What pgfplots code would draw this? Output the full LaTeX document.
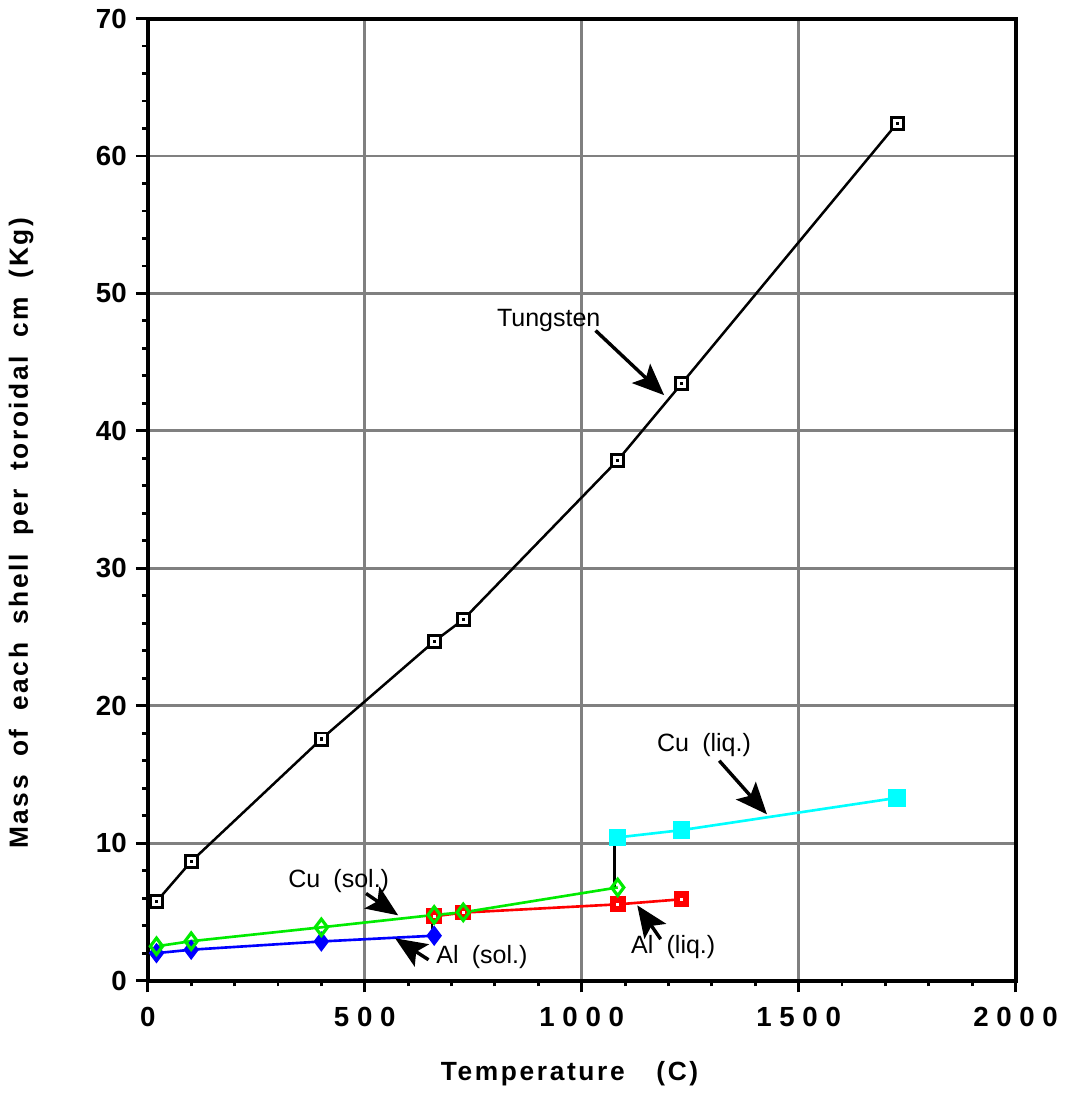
\documentclass[border=0pt]{standalone}
\usepackage{fontspec}
\setmainfont{Liberation Sans}
\newfontfamily\spaced[LetterSpace=10]{Liberation Sans}
\usepackage{pgfplots}
\pgfplotsset{compat=1.18}
\usetikzlibrary{arrows.meta}

\definecolor{gridgray}{RGB}{128,128,128}
\definecolor{culiq}{RGB}{0,255,255}
\definecolor{cusol}{RGB}{0,235,0}

\pgfdeclareplotmark{sqdotb}{%
  \pgfpathrectangle{\pgfpoint{-\pgfplotmarksize}{-\pgfplotmarksize}}{\pgfpoint{2\pgfplotmarksize}{2\pgfplotmarksize}}%
  \pgfusepathqfillstroke
  \begin{pgfscope}%
  \pgfpathrectangle{\pgfpoint{-0.6pt}{-0.6pt}}{\pgfpoint{1.2pt}{1.2pt}}%
  \pgfsetfillcolor{black}\pgfusepathqfill
  \end{pgfscope}}
\pgfdeclareplotmark{sqdotw}{%
  \pgfpathrectangle{\pgfpoint{-\pgfplotmarksize}{-\pgfplotmarksize}}{\pgfpoint{2\pgfplotmarksize}{2\pgfplotmarksize}}%
  \pgfusepathqfillstroke
  \begin{pgfscope}%
  \pgfpathrectangle{\pgfpoint{-0.55pt}{-0.55pt}}{\pgfpoint{1.1pt}{1.1pt}}%
  \pgfsetfillcolor{white}\pgfusepathqfill
  \end{pgfscope}}

\newcommand\g{\hspace{7pt}}

\begin{document}
\begin{tikzpicture}
\begin{axis}[
  scale only axis, width=329.5pt, height=365.3pt,
  xmin=0, xmax=2000, ymin=0, ymax=70,
  xtick={0,500,1000,1500,2000},
  xticklabels={0,5 0 0,1 0 0 0,1 5 0 0,2 0 0 0},
  ytick={0,10,20,30,40,50,60,70},
  yticklabels={0,10,20,30,40,50,60,70},
  minor xtick={100,200,...,1900},
  minor ytick={2,4,...,68},
  xtick pos=left, ytick pos=left,
  tick align=outside,
  major tick length=4.5pt, minor tick length=2.2pt,
  every tick/.style={black, line width=1.1pt},
  grid=major,
  major grid style={gridgray, line width=1.1pt},
  axis line style={line width=1.5pt},
  tick label style={font=\fontsize{10.5}{12}\selectfont\bfseries},
  xticklabel style={yshift=-2pt},
  xlabel={\spaced Temperature\hspace{12pt}(C)},
  ylabel={\spaced Mass\g of\g each\g shell\g per\g toroidal\g cm\g (Kg)},
  label style={font=\fontsize{10}{12}\selectfont\bfseries},
  xlabel style={at={(axis description cs:0.486,-0.097)}, anchor=center},
  ylabel style={at={(axis description cs:-0.146,0.465)}, anchor=center},
]
% connectors
\addplot[black, line width=1.1pt] coordinates {(655,3.27) (655,4.72)};
\addplot[black, line width=1.1pt] coordinates {(1075,6.78) (1075,10.42)};
% Tungsten
\addplot[black, line width=0.95pt, mark=sqdotb, mark size=2.3pt,
  mark options={solid, line width=1.1pt, draw=black, fill=white}]
  coordinates {(20,5.75) (100,8.67) (400,17.58) (660,24.68) (727,26.27) (1083,37.86) (1230,43.43) (1727,62.38)};
% Al (sol.)
\addplot[blue, line width=1pt, mark=diamond*, mark size=3.1pt,
  mark options={solid, draw=blue, fill=blue}]
  coordinates {(20,2.0) (100,2.25) (400,2.85) (660,3.27)};
% Al (liq.)
\addplot[red, line width=1pt, mark=sqdotw, mark size=2.8pt,
  mark options={solid, line width=0.4pt, draw=red, fill=red}]
  coordinates {(660,4.68) (727,4.95) (1083,5.55) (1230,5.92)};
% Cu (sol.)
\addplot[cusol, line width=1pt, mark=diamond, mark size=3.1pt,
  mark options={solid, line width=1.2pt, draw=cusol, fill=white}]
  coordinates {(20,2.5) (100,2.87) (400,3.88) (660,4.78) (727,4.97) (1083,6.78)};
% Cu (liq.)
\addplot[culiq, line width=1pt, mark=square*, mark size=2.8pt,
  mark options={solid, draw=culiq, fill=culiq}]
  coordinates {(1083,10.42) (1230,10.95) (1727,13.3)};

% annotations
\tikzset{ann/.style={font=\fontsize{9.5}{11}\selectfont, inner sep=0pt},
         arr/.style={black, line width=1.3pt, -{Stealth[length=12pt,width=10pt,inset=2.5pt]}}}
\node[ann] at (axis cs:924,48.0) {Tungsten};
\draw[arr] (axis cs:1032,47.3) -- (axis cs:1190,42.6);
\node[ann] at (axis cs:1282,17.16) {Cu\hspace{5pt}(liq.)};
\draw[arr] (axis cs:1317,16.0) -- (axis cs:1427,12.1);
\node[ann] at (axis cs:440,7.25) {Cu\hspace{5pt}(sol.)};
\draw[arr] (axis cs:503,6.34) -- (axis cs:577,4.75);
\node[ann] at (axis cs:770,1.7) {Al\hspace{5pt}(sol.)};
\draw[arr] (axis cs:647,1.52) -- (axis cs:570,3.08);
\node[ann] at (axis cs:1211,2.46) {Al\hspace{5pt}(liq.)};
\draw[arr] (axis cs:1182,3.02) -- (axis cs:1128,5.48);
\end{axis}
\end{tikzpicture}
\end{document}
